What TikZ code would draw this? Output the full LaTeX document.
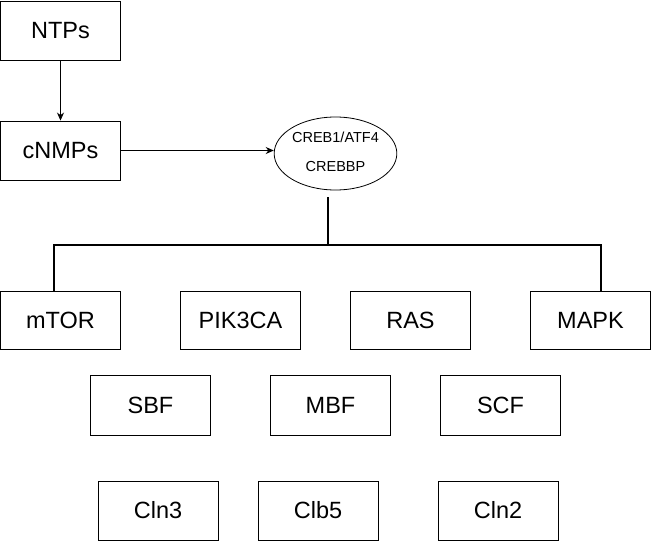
\documentclass[tikz,border=0pt]{standalone}
\usepackage{fontspec}
\setmainfont{Liberation Sans}
\usetikzlibrary{arrows.meta,shapes.geometric}
\begin{document}
\begin{tikzpicture}[x=1pt,y=-1pt,
  boxnode/.style={draw=black,line width=0.9pt,minimum width=120pt,minimum height=59pt,inner sep=0pt,
    font=\fontsize{23.5}{27}\selectfont},
  ellnode/.style={ellipse,draw=black,line width=0.8pt,minimum width=121pt,minimum height=73pt,inner sep=0pt,
    font=\fontsize{14.5}{17}\selectfont},
  arrowline/.style={draw=black,line width=0.8pt,-{Stealth[length=8pt,width=7pt]}},
  treeline/.style={draw=black,line width=1.6pt}]
\useasboundingbox (0,0) rectangle (651,541);
\node[boxnode] (ntps) at (60.5,30.5) {NTPs};
\node[boxnode] (cnmps) at (60.5,150.5) {cNMPs};
\node[ellnode] (ell) at (335.5,153.5) {\raisebox{-2.5pt}{\begin{tabular}{@{}c@{}}CREB1/ATF4\\[12pt]CREBBP\end{tabular}}};
\node[boxnode,minimum height=58pt] (mtor) at (60.5,320) {mTOR};
\node[boxnode,minimum height=58pt] (pik) at (240.5,320) {PIK3CA};
\node[boxnode,minimum height=58pt] (ras) at (410.5,320) {RAS};
\node[boxnode,minimum height=58pt] (mapk) at (590.5,320) {MAPK};
\node[boxnode,minimum height=60pt] (sbf) at (150.5,405) {SBF};
\node[boxnode,minimum height=60pt] (mbf) at (330.5,405) {MBF};
\node[boxnode,minimum height=60pt] (scf) at (500.5,405) {SCF};
\node[boxnode] (cln3) at (158,510.5) {Cln3};
\node[boxnode] (clb5) at (318,510.5) {Clb5};
\node[boxnode] (cln2) at (498,510.5) {Cln2};
\coordinate (top) at (328,197);
\coordinate (junction) at (328,245);
\draw[arrowline] (ntps.south) -- (cnmps.north);
\draw[arrowline] (cnmps.east) -- (ell.west |- cnmps.east);
\draw[treeline] (top) -- (junction);
\draw[treeline] ([xshift=-6.5pt]mtor.north) |- (junction) -| ([xshift=10.5pt]mapk.north);
\end{tikzpicture}
\end{document}
